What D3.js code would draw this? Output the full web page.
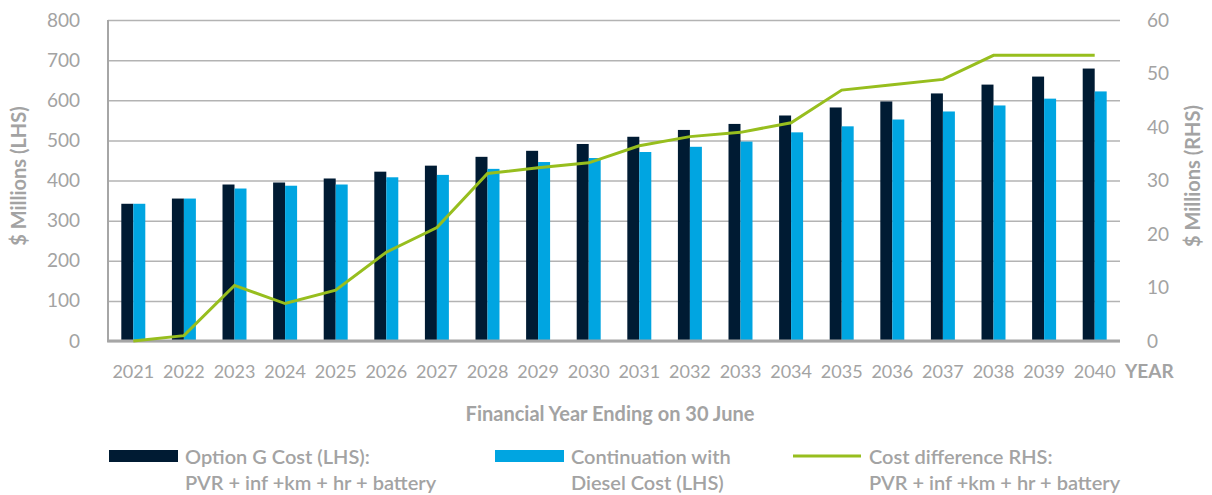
<!DOCTYPE html>
<html>
  <head>
    <meta charset="utf-8">
    <title>Option G vs Diesel cost</title>
    <style>
      body { margin: 0; background: #fff; }
      text { font-family: Lato, 'Open Sans', sans-serif; fill: #a3a3a3; }
    </style>
  </head>
  <body>
    <script src="https://d3js.org/d3.v7.min.js"></script>
    <script type="text/javascript">
      var years = ['2021', '2022', '2023', '2024', '2025', '2026', '2027', '2028', '2029', '2030',
                   '2031', '2032', '2033', '2034', '2035', '2036', '2037', '2038', '2039', '2040'];
      // $ millions, left axis
      var optionG = [342, 355, 390, 395, 405, 422, 437, 459, 474, 491,
                     509, 526, 541, 562, 582, 597, 617, 639, 659, 679];
      var diesel = [342, 355, 380, 387, 390, 408, 414, 429, 446, 456,
                    471, 484, 497, 520, 535, 552, 572, 587, 604, 622];
      // $ millions, right axis
      var costDiff = [0, 1.0, 10.4, 7.0, 9.5, 16.6, 21.2, 31.3, 32.4, 33.3,
                      36.5, 38.2, 39.0, 40.8, 46.9, 47.9, 48.9, 53.4, 53.4, 53.4];
      var leftTicks = [0, 100, 200, 300, 400, 500, 600, 700, 800];
      var rightTicks = [0, 10, 20, 30, 40, 50, 60];

      var w = 1212, h = 495;
      var plotL = 108, plotR = 1120, plotT = 20, plotB = 341;
      var navy = '#001b33', blue = '#00a5e1', green = '#97be1e', grey = '#a6a6a6';

      var svg = d3.select('body').append('svg').attr('width', w).attr('height', h);

      var x = d3.scaleBand().domain(years).range([plotL, plotR])
        .paddingInner(0.526).paddingOuter(0.263);
      var xSub = d3.scaleBand().domain(['g', 'd']).range([0, x.bandwidth()]);
      var yL = d3.scaleLinear().domain([0, 800]).range([plotB, plotT]);
      var yR = d3.scaleLinear().domain([0, 60]).range([plotB, plotT]);

      // gridlines
      svg.append('g')
        .attr('transform', 'translate(' + plotL + ',0)')
        .call(d3.axisLeft(yL).tickValues(leftTicks).tickSize(-(plotR - plotL)).tickFormat(''))
        .call(function(g) {
          g.select('.domain').remove();
          g.selectAll('.tick line').attr('stroke', '#b3b3b3').attr('stroke-width', 1.5);
        });

      // bars
      svg.append('g').selectAll('rect')
        .data(years)
        .enter().append('rect')
        .attr('x', function(d) { return x(d) + xSub('g'); })
        .attr('y', function(d, i) { return yL(optionG[i]); })
        .attr('width', xSub.bandwidth())
        .attr('height', function(d, i) { return plotB - yL(optionG[i]); })
        .attr('fill', navy);

      svg.append('g').selectAll('rect')
        .data(years)
        .enter().append('rect')
        .attr('x', function(d) { return x(d) + xSub('d'); })
        .attr('y', function(d, i) { return yL(diesel[i]); })
        .attr('width', xSub.bandwidth())
        .attr('height', function(d, i) { return plotB - yL(diesel[i]); })
        .attr('fill', blue);

      // left tick labels
      svg.append('g')
        .attr('transform', 'translate(' + plotL + ',0)')
        .call(d3.axisLeft(yL).tickValues(leftTicks).tickSize(0).tickPadding(28))
        .call(function(g) {
          g.select('.domain').remove();
          g.selectAll('text').style('font-size', '19px').style('fill', '#a3a3a3');
        });

      // right tick labels
      svg.append('g')
        .attr('transform', 'translate(' + plotR + ',0)')
        .call(d3.axisRight(yR).tickValues(rightTicks).tickSize(0).tickPadding(27))
        .call(function(g) {
          g.select('.domain').remove();
          g.selectAll('text').style('font-size', '19px').style('fill', '#a3a3a3');
        });

      // axis lines
      svg.append('line').attr('x1', plotL).attr('x2', plotL).attr('y1', plotT).attr('y2', plotB)
        .attr('stroke', grey).attr('stroke-width', 2);
      svg.append('line').attr('x1', plotL - 1).attr('x2', plotR).attr('y1', plotB).attr('y2', plotB)
        .attr('stroke', grey).attr('stroke-width', 3);

      // cost difference line
      var line = d3.line()
        .x(function(d, i) { return x(years[i]) + x.bandwidth() / 2; })
        .y(function(d) { return yR(d); });
      svg.append('path')
        .datum(costDiff)
        .attr('d', line)
        .attr('fill', 'none')
        .attr('stroke', green)
        .attr('stroke-width', 3);

      // x axis labels
      svg.append('g')
        .attr('transform', 'translate(0,' + plotB + ')')
        .call(d3.axisBottom(x).tickSize(0).tickPadding(24))
        .call(function(g) {
          g.select('.domain').remove();
          g.selectAll('text').style('font-size', '18px').style('fill', '#a3a3a3');
        });

      svg.append('text').attr('x', 1125).attr('y', 378)
        .style('font-size', '19px').style('font-weight', 'bold').text('YEAR');

      svg.append('text').attr('x', 610).attr('y', 421).attr('text-anchor', 'middle')
        .style('font-size', '20px').style('font-weight', 'bold').text('Financial Year Ending on 30 June');

      svg.append('text')
        .attr('transform', 'translate(26,176) rotate(-90)')
        .attr('text-anchor', 'middle')
        .style('font-size', '20px').style('font-weight', 'bold').text('$ Millions (LHS)');
      svg.append('text')
        .attr('transform', 'translate(1200,176) rotate(-90)')
        .attr('text-anchor', 'middle')
        .style('font-size', '20px').style('font-weight', 'bold').text('$ Millions (RHS)');

      // legend
      var legend = [
        { label: ['Option G Cost (LHS):', 'PVR + inf +km + hr + battery'], color: navy, type: 'rect', x: 109 },
        { label: ['Continuation with', 'Diesel Cost (LHS)'], color: blue, type: 'rect', x: 495 },
        { label: ['Cost difference RHS:', 'PVR + inf +km + hr + battery'], color: green, type: 'line', x: 793 }
      ];
      var lg = svg.append('g').selectAll('g').data(legend).enter().append('g')
        .attr('transform', function(d) { return 'translate(' + d.x + ',0)'; });
      lg.filter(function(d) { return d.type === 'rect'; }).append('rect')
        .attr('x', 0).attr('y', 450).attr('width', 69).attr('height', 12)
        .attr('fill', function(d) { return d.color; });
      lg.filter(function(d) { return d.type === 'line'; }).append('line')
        .attr('x1', 0).attr('x2', 68).attr('y1', 456).attr('y2', 456)
        .attr('stroke', function(d) { return d.color; }).attr('stroke-width', 3);
      lg.append('text').attr('x', 76).attr('y', 464)
        .style('font-size', '20px').style('font-weight', 600)
        .text(function(d) { return d.label[0]; });
      lg.append('text').attr('x', 76).attr('y', 490)
        .style('font-size', '20px').style('font-weight', 600)
        .text(function(d) { return d.label[1]; });
    </script>
  </body>
</html>
